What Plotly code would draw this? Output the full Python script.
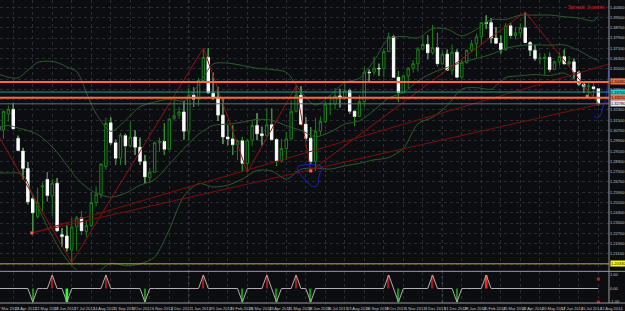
import plotly.graph_objects as go

# ---------------- data (weekly candles; index 0 = week of 15 Apr 2012) ----------------
candle_idx = list(range(-1, 123))
opens = [1.3100, 1.3075, 1.3200, 1.3235, 1.3010, 1.2910, 1.2775, 1.2540, 1.2400, 1.2630, 1.2690,
         1.2560, 1.2660, 1.2260, 1.2250, 1.2140, 1.2320, 1.2390, 1.2285, 1.2330, 1.2510,
         1.2575, 1.2790, 1.3130, 1.2975, 1.2855, 1.3030, 1.2950, 1.3020, 1.2940, 1.2830,
         1.2705, 1.2745, 1.2975, 1.2985, 1.2925, 1.3165, 1.3190, 1.3215, 1.3065, 1.3345,
         1.3315, 1.3460, 1.3640, 1.3360, 1.3330, 1.3190, 1.3020, 1.3005, 1.2960, 1.2990,
         1.2815, 1.2995, 1.3110, 1.3045, 1.3030, 1.3115, 1.3000, 1.2835, 1.2930, 1.3005,
         1.3220, 1.3345, 1.3120, 1.3010, 1.2830, 1.3065, 1.3140, 1.3275, 1.3275, 1.3340,
         1.3330, 1.3380, 1.3220, 1.3180, 1.3295, 1.3525, 1.3525, 1.3555, 1.3555, 1.3685,
         1.3800, 1.3485, 1.3365, 1.3495, 1.3555, 1.3590, 1.3705, 1.3740, 1.3675, 1.3715,
         1.3590, 1.3665, 1.3540, 1.3680, 1.3485, 1.3600, 1.3695, 1.3745, 1.3800, 1.3910,
         1.3910, 1.3790, 1.3750, 1.3700, 1.3885, 1.3810, 1.3830, 1.3870, 1.3755, 1.3695,
         1.3630, 1.3630, 1.3640, 1.3545, 1.3605, 1.3645, 1.3590, 1.3605, 1.3525, 1.3430,
         1.3410, 1.3410, 1.3395]
highs = [1.3210, 1.3225, 1.3265, 1.3285, 1.3030, 1.2935, 1.2825, 1.2570, 1.2625, 1.2670, 1.2745,
         1.2695, 1.2700, 1.2310, 1.2330, 1.2390, 1.2405, 1.2444, 1.2372, 1.2590, 1.2635,
         1.2818, 1.3170, 1.3172, 1.3000, 1.3050, 1.3045, 1.3140, 1.3070, 1.3015, 1.2880,
         1.2780, 1.2985, 1.3015, 1.3125, 1.3165, 1.3308, 1.3255, 1.3300, 1.3405, 1.3405,
         1.3480, 1.3711, 1.3710, 1.3520, 1.3410, 1.3320, 1.3110, 1.3110, 1.3000, 1.3020,
         1.3000, 1.3145, 1.3205, 1.3100, 1.3245, 1.3240, 1.3010, 1.3005, 1.3060, 1.3305,
         1.3416, 1.3415, 1.3175, 1.3095, 1.3170, 1.3180, 1.3300, 1.3345, 1.3400, 1.3395,
         1.3450, 1.3395, 1.3230, 1.3345, 1.3570, 1.3545, 1.3645, 1.3590, 1.3705, 1.3832,
         1.3815, 1.3530, 1.3500, 1.3565, 1.3620, 1.3720, 1.3810, 1.3810, 1.3893, 1.3830,
         1.3690, 1.3700, 1.3740, 1.3700, 1.3620, 1.3700, 1.3775, 1.3825, 1.3915, 1.3966,
         1.3945, 1.3875, 1.3810, 1.3905, 1.3905, 1.3875, 1.3905, 1.3993, 1.3765, 1.3735,
         1.3675, 1.3670, 1.3675, 1.3615, 1.3680, 1.3700, 1.3650, 1.3630, 1.3535, 1.3445,
         1.3445, 1.3435, 1.3400]
lows = [1.3000, 1.3005, 1.3140, 1.3085, 1.2910, 1.2690, 1.2495, 1.2285, 1.2385, 1.2440, 1.2520,
        1.2405, 1.2285, 1.2165, 1.2130, 1.2042, 1.2135, 1.2260, 1.2240, 1.2320, 1.2480,
        1.2545, 1.2765, 1.2960, 1.2805, 1.2800, 1.2805, 1.2940, 1.2880, 1.2805, 1.2660,
        1.2660, 1.2740, 1.2905, 1.2880, 1.2920, 1.3150, 1.3160, 1.3000, 1.2995, 1.3255,
        1.3260, 1.3440, 1.3355, 1.3310, 1.3145, 1.2965, 1.2955, 1.2880, 1.2840, 1.2750,
        1.2745, 1.2950, 1.2995, 1.2955, 1.3025, 1.2995, 1.2795, 1.2820, 1.2840, 1.3000,
        1.3210, 1.3115, 1.2990, 1.2810, 1.2755, 1.3035, 1.3130, 1.3190, 1.3235, 1.3250,
        1.3310, 1.3200, 1.3105, 1.3175, 1.3250, 1.3450, 1.3500, 1.3495, 1.3485, 1.3680,
        1.3480, 1.3295, 1.3360, 1.3400, 1.3520, 1.3530, 1.3700, 1.3625, 1.3660, 1.3570,
        1.3580, 1.3540, 1.3500, 1.3480, 1.3475, 1.3590, 1.3680, 1.3640, 1.3735, 1.3860,
        1.3750, 1.3750, 1.3670, 1.3690, 1.3790, 1.3780, 1.3795, 1.3755, 1.3650, 1.3615,
        1.3585, 1.3500, 1.3525, 1.3545, 1.3575, 1.3585, 1.3575, 1.3475, 1.3420, 1.3365,
        1.3330, 1.3330, 1.3265]
closes = [1.3075, 1.3220, 1.3235, 1.3085, 1.2915, 1.2775, 1.2515, 1.2430, 1.2510, 1.2640, 1.2565,
          1.2660, 1.2290, 1.2245, 1.2155, 1.2320, 1.2390, 1.2290, 1.2330, 1.2510, 1.2575,
          1.2810, 1.3125, 1.2975, 1.2855, 1.3035, 1.2950, 1.3020, 1.2940, 1.2830, 1.2710,
          1.2745, 1.2975, 1.2985, 1.2925, 1.3160, 1.3185, 1.3215, 1.3065, 1.3345, 1.3315,
          1.3460, 1.3640, 1.3365, 1.3330, 1.3190, 1.3020, 1.3005, 1.2960, 1.2990, 1.2815,
          1.2995, 1.3110, 1.3045, 1.3030, 1.3115, 1.3000, 1.2835, 1.2930, 1.3005, 1.3220,
          1.3345, 1.3120, 1.3010, 1.2830, 1.3065, 1.3140, 1.3275, 1.3280, 1.3340, 1.3330,
          1.3380, 1.3220, 1.3180, 1.3295, 1.3525, 1.3520, 1.3555, 1.3550, 1.3685, 1.3800,
          1.3485, 1.3365, 1.3495, 1.3555, 1.3590, 1.3705, 1.3740, 1.3675, 1.3715, 1.3590,
          1.3665, 1.3540, 1.3680, 1.3485, 1.3600, 1.3695, 1.3745, 1.3800, 1.3910, 1.3905,
          1.3790, 1.3750, 1.3700, 1.3885, 1.3810, 1.3830, 1.3870, 1.3755, 1.3695, 1.3630,
          1.3635, 1.3640, 1.3545, 1.3605, 1.3645, 1.3590, 1.3605, 1.3525, 1.3430, 1.3410,
          1.3415, 1.3395, 1.3278]

# Bollinger bands, read at sample candles
bb_up_idx = [-1, 1, 3, 5, 7, 9, 11, 13, 15, 16, 17, 19, 22, 25, 28, 31, 34, 37, 40, 43, 46, 49,
             52, 55, 58, 61, 64, 67, 70, 73, 76, 79, 82, 85, 88, 91, 94, 97, 100, 103, 106, 109,
             112, 115, 118, 121, 122]
bb_up = [1.3510, 1.3485, 1.3480, 1.3540, 1.3600, 1.3610, 1.3600, 1.3565, 1.3530, 1.3464, 1.3363,
         1.3202, 1.3064, 1.3148, 1.3255, 1.3292, 1.3315, 1.3300, 1.3425, 1.3588, 1.3595, 1.3576,
         1.3555, 1.3545, 1.3523, 1.3373, 1.3268, 1.3345, 1.3445, 1.3476, 1.3614, 1.3785,
         1.3802, 1.3791, 1.3864, 1.3859, 1.3807, 1.3857, 1.3933, 1.3934, 1.3968, 1.3968,
         1.3969, 1.3956, 1.3946, 1.3924, 1.3959]
bb_mid_idx = [-1, 1, 3, 5, 7, 9, 11, 13, 15, 17, 19, 22, 25, 28, 31, 34, 37, 40, 43, 46, 49,
              52, 55, 58, 61, 64, 67, 70, 73, 76, 79, 82, 85, 88, 91, 94, 97, 100, 103, 106, 109,
              112, 115, 118, 121, 122]
bb_mid = [1.3098, 1.3110, 1.3090, 1.3070, 1.3040, 1.2980, 1.2900, 1.2800, 1.2700, 1.2630, 1.2583,
          1.2551, 1.2583, 1.2644, 1.2689, 1.2807, 1.2930, 1.3041, 1.3110, 1.3120, 1.3135,
          1.3157, 1.3150, 1.3108, 1.3071, 1.3022, 1.3058, 1.3120, 1.3146, 1.3228, 1.3323,
          1.3366, 1.3457, 1.3519, 1.3562, 1.3600, 1.3631, 1.3663, 1.3709, 1.3732, 1.3737,
          1.3734, 1.3737, 1.3692, 1.3630, 1.3617]
bb_lo_idx = [-1, 1, 3, 4, 5, 6, 8, 10, 12, 14, 16, 19, 22, 25, 28, 31, 34, 37, 40, 43, 46, 49,
             52, 55, 58, 61, 64, 67, 70, 73, 76, 79, 82, 85, 88, 91, 94, 97, 100, 103, 106, 109,
             112, 115, 118, 121, 122]
bb_lo = [1.2740, 1.2740, 1.2740, 1.2725, 1.2660, 1.2560, 1.2400, 1.2250, 1.2120, 1.2020, 1.1960,
         1.1964, 1.2038, 1.2018, 1.2032, 1.2086, 1.2299, 1.2560, 1.2657, 1.2631, 1.2645, 1.2693,
         1.2759, 1.2756, 1.2692, 1.2769, 1.2777, 1.2770, 1.2795, 1.2815, 1.2842, 1.2860,
         1.2930, 1.3123, 1.3173, 1.3265, 1.3393, 1.3404, 1.3392, 1.3483, 1.3496, 1.3506,
         1.3498, 1.3517, 1.3438, 1.3336, 1.3275]

# zigzag swing points (dark red legs)
zz_idx = [-8, 14, 41, 50, 60, 63, 107, 121]
zz_px = [1.3486, 1.2042, 1.3711, 1.2745, 1.3416, 1.2755, 1.3993, 1.3330]

# two long trendlines from a common anchor
tl_anchor = (5.82, 1.2273)
tl_ends = [(124.18, 1.3587), (124.18, 1.3291)]

# small red dots
dot_idx = [5.82, 63, 119.7]
dot_px = [1.2273, 1.2756, 1.3337]

# hand-drawn blue shapes
blue_loop_idx = [60.37, 65.27, 64.8, 64.24, 63.57, 63.16, 61.53, 60.51, 60.37]
blue_loop_px = [1.2789, 1.2789, 1.2725, 1.2639, 1.2634, 1.2639, 1.2701, 1.2748, 1.2789]
blue_hook_idx = [124.08, 123.57, 122.76, 122.35, 121.73, 121.12]
blue_hook_px = [1.3541, 1.3331, 1.3230, 1.3184, 1.3168, 1.3184]

# horizontal levels
level_px = [1.3448, 1.3370, 1.3325, 1.3278, 1.2033]
level_color = ['#ff6a3d', '#1f9a9a', '#ff6a3d', '#6c6c6c', '#b4b400']
level_width = [2, 1, 2, 1, 1]
level_box = ['#ff6a3d', '#22d2d2', '#ff6a3d', '#e6e6e6', '#ffff00']

# price axis labels
price_ticks = [1.4030, 1.3950, 1.3870, 1.3790, 1.3710, 1.3630, 1.3550, 1.3470, 1.3390, 1.3310,
               1.3230, 1.3150, 1.3070, 1.2990, 1.2910, 1.2830, 1.2750, 1.2670, 1.2590, 1.2510,
               1.2430, 1.2350, 1.2270, 1.2190, 1.2110, 1.2030]

# date labels (every 4 candles)
date_idx = [-2, 2, 6, 10, 14, 18, 22, 26, 30, 34, 38, 42, 46, 50, 54, 58, 62, 66, 70, 74, 78,
            82, 86, 90, 94, 98, 102, 106, 110, 114, 118, 122]
date_labels = ['27 Mar 2012', '24 Apr 2012', '22 May 2012', '19 Jun 2012', '17 Jul 2012',
               '14 Aug 2012', '11 Sep 2012', '9 Oct 2012', '6 Nov 2012', '4 Dec 2012',
               '1 Jan 2013', '29 Jan 2013', '26 Feb 2013', '26 Mar 2013', '23 Apr 2013',
               '21 May 2013', '18 Jun 2013', '16 Jul 2013', '13 Aug 2013', '10 Sep 2013',
               '8 Oct 2013', '5 Nov 2013', '3 Dec 2013', '31 Dec 2013', '28 Jan 2014',
               '25 Feb 2014', '25 Mar 2014', '22 Apr 2014', '20 May 2014', '17 Jun 2014',
               '15 Jul 2014', '12 Aug 2014']
year_sep_idx = [38, 90]

# zigzag-signal sub-indicator
sig_lo_idx = [6, 13, 29, 49, 56, 63, 81, 93]
sig_hi_idx = [10, 21, 41, 54, 60, 79, 88, 99]
sig_bright = [13, 99]

# ---------------- styling ----------------
BG = '#0c0d10'
GREEN = '#1b801b'
BBC = '#2f5a30'
RED = '#8e1414'
GRID = '#2a2c31'
TXT = '#c4c4c4'
FONT = 'Liberation Sans'
XR = [-0.714, 124.18]
YR = [1.1985, 1.4086]

fig = go.Figure()

fig.add_trace(go.Candlestick(
    x=candle_idx, open=opens, high=highs, low=lows, close=closes,
    increasing=dict(line=dict(color=GREEN, width=1), fillcolor=BG),
    decreasing=dict(line=dict(color='#ffffff', width=1), fillcolor='#ffffff'),
    whiskerwidth=0, hoverinfo='skip', xaxis='x', yaxis='y'))

# green wicks for the white (bearish) candles
wx, wy = [], []
for i, o, h, l, c in zip(candle_idx, opens, highs, lows, closes):
    if c <= o:
        wx += [i, i, None, i, i, None]
        wy += [h, o, None, c, l, None]
fig.add_trace(go.Scatter(x=wx, y=wy, mode='lines', line=dict(color=GREEN, width=1),
                         hoverinfo='skip', xaxis='x', yaxis='y'))

for bi, bv in [(bb_up_idx, bb_up), (bb_mid_idx, bb_mid), (bb_lo_idx, bb_lo)]:
    fig.add_trace(go.Scatter(x=bi, y=bv, mode='lines',
                             line=dict(color=BBC, width=1, shape='spline', smoothing=0.8),
                             hoverinfo='skip', xaxis='x', yaxis='y'))

fig.add_trace(go.Scatter(x=zz_idx, y=zz_px, mode='lines', line=dict(color=RED, width=1),
                         hoverinfo='skip', xaxis='x', yaxis='y'))
for end in tl_ends:
    fig.add_trace(go.Scatter(x=[tl_anchor[0], end[0]], y=[tl_anchor[1], end[1]], mode='lines',
                             line=dict(color='#7a1010', width=1), hoverinfo='skip',
                             xaxis='x', yaxis='y'))

fig.add_trace(go.Scatter(x=blue_loop_idx, y=blue_loop_px, mode='lines',
                         line=dict(color='#1e1ed2', width=1, shape='spline'),
                         hoverinfo='skip', xaxis='x', yaxis='y'))
fig.add_trace(go.Scatter(x=blue_hook_idx, y=blue_hook_px, mode='lines',
                         line=dict(color='#1e1ed2', width=1, shape='spline'),
                         hoverinfo='skip', xaxis='x', yaxis='y'))
fig.add_trace(go.Scatter(x=dot_idx, y=dot_px, mode='markers',
                         marker=dict(color='#ff6060', size=3, symbol='square'),
                         hoverinfo='skip', xaxis='x', yaxis='y'))

# sub-panel
sig_map = {i: -1 for i in sig_lo_idx}
sig_map.update({i: 1 for i in sig_hi_idx})
zz_vals = [sig_map.get(i, 0) for i in candle_idx]
fig.add_trace(go.Scatter(x=candle_idx, y=zz_vals, mode='lines', line=dict(color='#b0b0b0', width=1),
                         hoverinfo='skip', xaxis='x2', yaxis='y2'))
bar_x = sig_lo_idx + sig_hi_idx
bar_y = [-1] * len(sig_lo_idx) + [1] * len(sig_hi_idx)
bar_c = []
for i, v in zip(bar_x, bar_y):
    if v < 0:
        bar_c.append('#22ff22' if i in sig_bright else '#1a8a1a')
    else:
        bar_c.append('#ff2020' if i in sig_bright else '#a01818')
bar_w = [0.55 if i in sig_bright else 0.3 for i in bar_x]
fig.add_trace(go.Bar(x=bar_x, y=bar_y, width=bar_w, marker=dict(color=bar_c, line=dict(width=0)),
                     hoverinfo='skip', xaxis='x2', yaxis='y2'))
fig.add_trace(go.Scatter(x=[122, 122], y=[0.7, -1.0], mode='markers',
                         marker=dict(color='#e01010', size=3, symbol='square'),
                         hoverinfo='skip', xaxis='x2', yaxis='y2'))

shapes = []
for p, c, w in zip(level_px, level_color, level_width):
    shapes.append(dict(type='line', xref='x domain', x0=0, x1=1, yref='y', y0=p, y1=p,
                       line=dict(color=c, width=w), layer='above'))
for i in year_sep_idx:
    shapes.append(dict(type='line', xref='x', x0=i, x1=i, yref='paper', y0=0, y1=1,
                       line=dict(color='#5c5c5c', width=1, dash='dot'), layer='below'))
shapes.append(dict(type='line', xref='paper', x0=0, x1=1.03, yref='paper', y0=0.1045, y1=0.1045,
                   line=dict(color='#9a9a9a', width=1)))
shapes.append(dict(type='line', xref='paper', x0=1, x1=1, yref='paper', y0=0, y1=1,
                   line=dict(color='#9a9a9a', width=1)))
shapes.append(dict(type='line', xref='paper', x0=0, x1=1.03, yref='paper', y0=0, y1=0,
                   line=dict(color='#9a9a9a', width=1)))

ann = []
for p, b in zip(level_px, level_box):
    ann.append(dict(xref='paper', x=1, xanchor='left', xshift=1, yref='y', y=p,
                    text=f'{p:.5f}', showarrow=False, bgcolor=b, borderpad=0,
                    font=dict(size=4, color='#000000', family=FONT)))
for i, t in zip(date_idx, date_labels):
    if XR[0] <= i <= XR[1]:
        ann.append(dict(xref='x', x=i, xanchor='left', yref='paper', y=0, yanchor='top',
                        yshift=-1, text=t, showarrow=False,
                        font=dict(size=4, color=TXT, family=FONT)))
    else:
        ann.append(dict(xref='x domain', x=(i - XR[0]) / (XR[1] - XR[0]), xanchor='left',
                        yref='paper', y=0, yanchor='top', yshift=-1, text=t, showarrow=False,
                        font=dict(size=4, color=TXT, family=FONT)))
ann.append(dict(xref='paper', x=0.996, xanchor='right', yref='paper', y=1, yanchor='top',
                yshift=-2, text='Spread: 3 points', showarrow=False,
                font=dict(size=5, color='#e01818', family=FONT)))

fig.update_layout(
    width=625, height=311, margin=dict(l=0, r=13, t=0, b=8),
    paper_bgcolor=BG, plot_bgcolor=BG, showlegend=False, barmode='overlay',
    xaxis=dict(domain=[0, 1], range=XR, anchor='y', tickvals=date_idx, showticklabels=False,
               showgrid=True, gridcolor=GRID, griddash='dot', gridwidth=1, zeroline=False,
               rangeslider=dict(visible=False), showline=False, ticks=''),
    yaxis=dict(domain=[0.109, 1], range=YR, side='right', anchor='x', tickvals=price_ticks,
               ticktext=[f'{v:.5f}' for v in price_ticks], tickfont=dict(size=4, color=TXT, family=FONT),
               showgrid=True, gridcolor=GRID, griddash='dot', gridwidth=1, zeroline=False,
               ticks='', showline=False),
    xaxis2=dict(domain=[0, 1], range=XR, anchor='y2', tickvals=date_idx, showticklabels=False,
                showgrid=True, gridcolor=GRID, griddash='dot', zeroline=False, showline=False, ticks=''),
    yaxis2=dict(domain=[0, 0.1023], range=[-1.07, 1.22], side='right', anchor='x2',
                tickvals=[1, 0, -1], ticktext=['1.00', '0.00', '-1.00'],
                tickfont=dict(size=4, color=TXT, family=FONT), showgrid=False, zeroline=False,
                ticks='', showline=False),
    shapes=shapes, annotations=ann,
)

fig.write_html('out.html')
